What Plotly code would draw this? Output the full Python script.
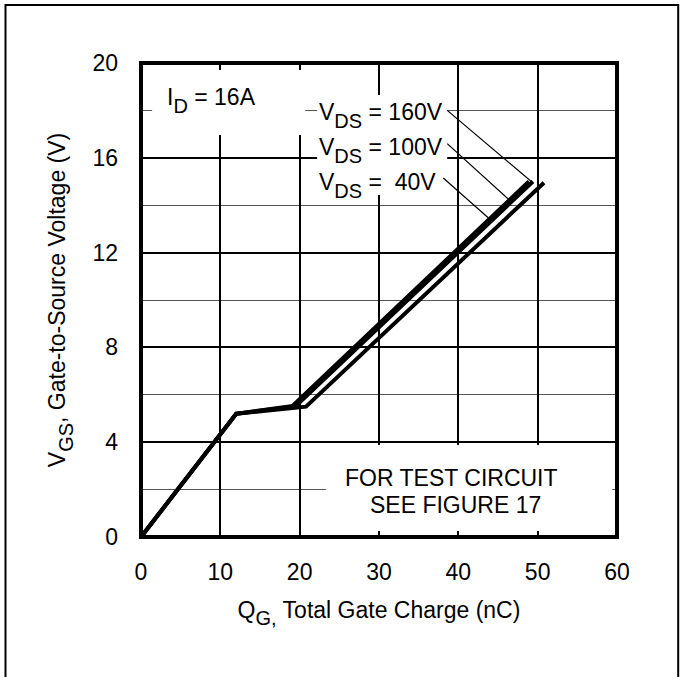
import plotly.graph_objects as go

# ---- data ----
qg_160 = [0, 12.0, 20.8, 50.8]
vgs_160 = [0, 5.2, 5.5, 14.95]
qg_100 = [0, 12.0, 19.6, 49.4]
vgs_100 = [0, 5.2, 5.55, 15.0]
qg_40 = [0, 12.0, 19.0, 48.9]
vgs_40 = [0, 5.2, 5.5, 15.0]

# leader lines from labels to curves
lead_160_q = [38.6, 49.2]
lead_160_v = [18.0, 15.0]
lead_100_q = [38.6, 46.5]
lead_100_v = [16.6, 14.2]
lead_40_q = [38.1, 43.8]
lead_40_v = [15.15, 13.46]

x_ticks = [0, 10, 20, 30, 40, 50, 60]
y_ticks = [0, 4, 8, 12, 16, 20]

FONT = "Liberation Sans, Arial, Helvetica, sans-serif"
SZ = 23


def sub(s, px=20, shift=-3):
    return f'<sub><span style="font-size:{px}px;baseline-shift:{shift}px">{s}</span></sub>'


fig = go.Figure()
for q, v in [(qg_160, vgs_160), (qg_100, vgs_100), (qg_40, vgs_40)]:
    fig.add_trace(go.Scatter(x=q, y=v, mode="lines",
                             line=dict(color="black", width=4),
                             showlegend=False, hoverinfo="skip"))
for q, v in [(lead_160_q, lead_160_v), (lead_100_q, lead_100_v), (lead_40_q, lead_40_v)]:
    fig.add_trace(go.Scatter(x=q, y=v, mode="lines",
                             line=dict(color="black", width=1.2),
                             showlegend=False, hoverinfo="skip"))

shapes = []
# white boxes behind labels (cover gridlines, below traces)
for x0, x1, y0, y1 in [(1.4, 20.7, 16.96, 19.7),
                       (22.2, 38.6, 14.43, 18.65),
                       (23.3, 59.4, 0.25, 3.88)]:
    shapes.append(dict(type="rect", xref="x", yref="y", x0=x0, x1=x1, y0=y0, y1=y1,
                       fillcolor="white", line=dict(width=0), layer="between"))
# thick plot frame
shapes.append(dict(type="rect", xref="paper", yref="paper", x0=0, x1=1, y0=0, y1=1,
                   line=dict(color="black", width=4), layer="above"))
# outer figure border
shapes.append(dict(type="rect", xref="paper", yref="paper",
                   x0=(5.5 - 141) / 476, x1=(678.2 - 141) / 476,
                   y0=(537 - 720) / 474, y1=(537 - 5) / 474,
                   line=dict(color="black", width=2), layer="above"))

tf = dict(family=FONT, size=SZ, color="black")
annotations = [
    dict(text="I" + sub("D") + " = 16A", x=3.0, y=18.4, xref="x", yref="y",
         xanchor="left", yanchor="middle", showarrow=False, font=tf),
    dict(text="V" + sub("DS") + " = 160V", x=22.2, y=17.8, xref="x", yref="y",
         xanchor="left", yanchor="middle", showarrow=False, font=tf),
    dict(text="V" + sub("DS") + " = 100V", x=22.2, y=16.3, xref="x", yref="y",
         xanchor="left", yanchor="middle", showarrow=False, font=tf),
    dict(text="V" + sub("DS") + " =  40V", x=22.2, y=14.85, xref="x", yref="y",
         xanchor="left", yanchor="middle", showarrow=False, font=tf),
    dict(text="FOR TEST CIRCUIT", x=39.1, y=2.5, xref="x", yref="y",
         xanchor="center", yanchor="middle", showarrow=False, font=tf),
    dict(text="SEE FIGURE 17", x=39.6, y=1.35, xref="x", yref="y",
         xanchor="center", yanchor="middle", showarrow=False, font=tf),
]

fig.update_layout(
    width=680, height=677,
    margin=dict(l=141, r=63, t=63, b=140),
    paper_bgcolor="white", plot_bgcolor="white",
    font=dict(family=FONT, size=SZ, color="black"),
    shapes=shapes, annotations=annotations,
    xaxis=dict(range=[0, 60], tickvals=x_ticks, ticktext=[str(t) for t in x_ticks],
               showgrid=True, gridcolor="black", gridwidth=2,
               zeroline=False, showline=False, ticks="",
               ticklabelstandoff=19,
               tickfont=tf,
               title=dict(text="Q" + sub("G,") + " Total Gate Charge (nC)",
                          font=tf, standoff=17)),
    yaxis=dict(range=[0, 20], tickvals=y_ticks, ticktext=[str(t) for t in y_ticks],
               showgrid=True, gridcolor="black", gridwidth=2,
               minor=dict(dtick=2, tick0=0, showgrid=True, gridcolor="#555555", gridwidth=1.2),
               zeroline=False, showline=False, ticks="",
               ticklabelstandoff=22,
               tickfont=tf,
               title=dict(text="V" + sub("GS") + ", Gate-to-Source Voltage (V)",
                          font=tf, standoff=20)),
)

fig.write_html("out.html")
